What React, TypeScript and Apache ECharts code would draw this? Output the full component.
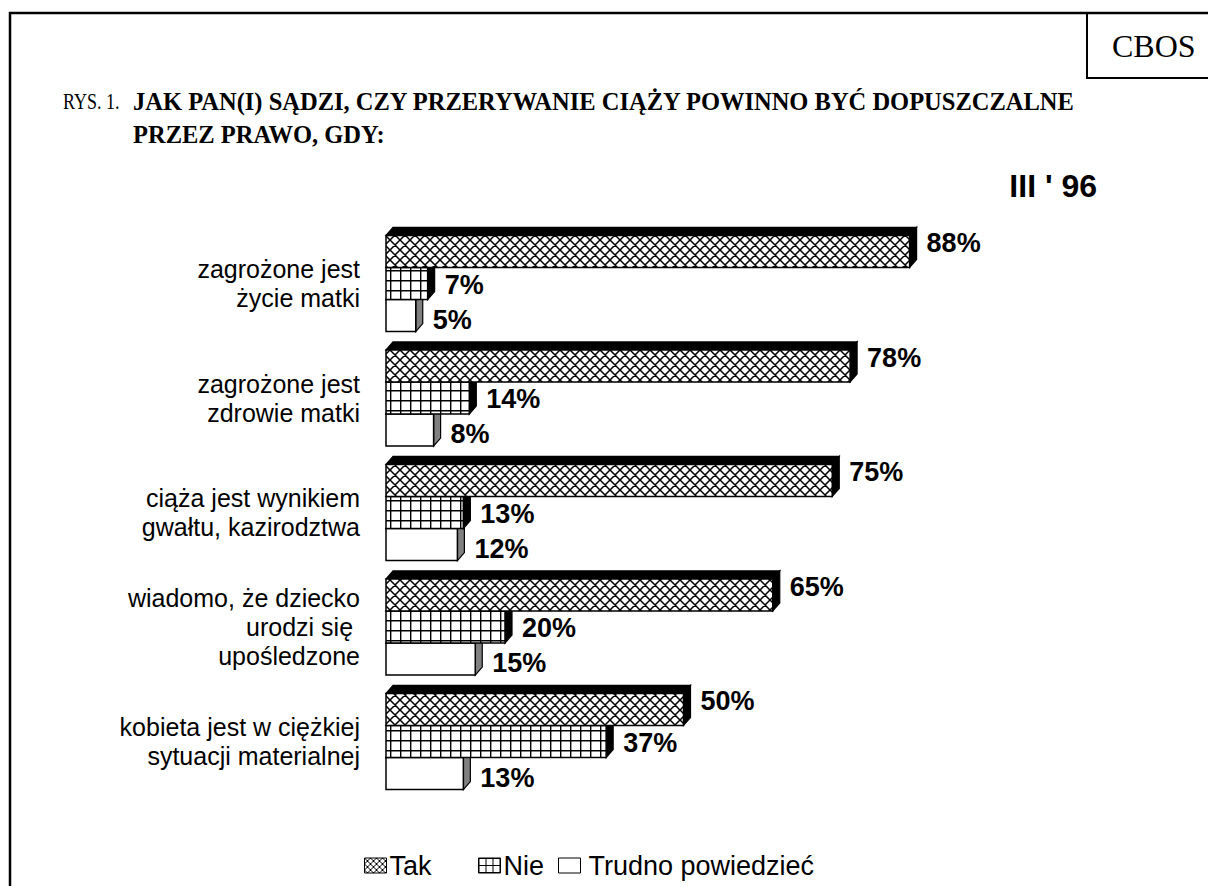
import React, { useEffect, useRef } from 'react';
import * as echarts from 'echarts';

const categories = [
  'zagrożone jest\nżycie matki',
  'zagrożone jest\nzdrowie matki',
  'ciąża jest wynikiem\ngwałtu, kazirodztwa',
  'wiadomo, że dziecko\nurodzi się \nupośledzone',
  'kobieta jest w ciężkiej\nsytuacji materialnej',
];
const seriesNames = ['Tak', 'Nie', 'Trudno powiedzieć'];
const takValues = [88, 78, 75, 65, 50];
const nieValues = [7, 14, 13, 20, 37];
const trudnoValues = [5, 8, 12, 15, 13];
const periodLabel = "III ' 96";
const figureLabel = 'RYS. 1.';
const titleLines = [
  'JAK PAN(I) SĄDZI, CZY PRZERYWANIE CIĄŻY POWINNO BYĆ DOPUSZCZALNE',
  'PRZEZ PRAWO, GDY:',
];
const sourceLabel = 'CBOS';

const SANS = '"Liberation Sans", Arial, Helvetica, sans-serif';
const SERIF = '"Liberation Serif", "Times New Roman", Times, serif';

const svgUrl = (s: string) => 'data:image/svg+xml;charset=utf-8,' + encodeURIComponent(s);

const crossPattern = (n: number, w: number) => ({
  image: svgUrl(
    `<svg xmlns="http://www.w3.org/2000/svg" width="${n}" height="${n}"><rect width="${n}" height="${n}" fill="#fff"/><path d="M-1 -1L${n + 1} ${n + 1}M${n + 1} -1L-1 ${n + 1}M-1 ${n - 1}L1 ${n + 1}M${n - 1} -1L${n + 1} 1M-1 1L1 -1M${n - 1} ${n + 1}L${n + 1} ${n - 1}" stroke="#000" stroke-width="${w}" fill="none"/></svg>`
  ),
  repeat: 'repeat',
  imageWidth: n,
  imageHeight: n,
});

const gridPattern = (n: number, w: number) => ({
  image: svgUrl(
    `<svg xmlns="http://www.w3.org/2000/svg" width="${n}" height="${n}"><rect width="${n}" height="${n}" fill="#fff"/><path d="M${w / 2} 0V${n}M0 ${w / 2}H${n}" stroke="#000" stroke-width="${w}" fill="none"/></svg>`
  ),
  repeat: 'repeat',
  imageWidth: n,
  imageHeight: n,
});

const faceStyles = [
  { front: crossPattern(10, 1.5), top: '#000', side: '#000' },
  { front: gridPattern(10, 1.4), top: '#000', side: '#000' },
  { front: '#fff', top: '#808080', side: '#808080' },
];
const legendFills = [crossPattern(6, 1), gridPattern(7, 1), '#fff'];
const labelDy = [-8, 1, 4];

const makeRenderItem = (k: number) => (params: any, api: any) => {
  const v = api.value(0);
  const cat = api.value(1);
  const start = api.coord([0, cat]);
  const end = api.coord([v, cat]);
  const band = api.size([0, 1])[1];
  const barH = band * 0.28;
  const x0 = start[0];
  const x1 = end[0];
  const y0 = start[1] - 1.5 * barH + k * barH;
  const y1 = y0 + barH;
  const dx = 7;
  const dy = -8;
  const st = faceStyles[k];
  return {
    type: 'group',
    children: [
      {
        type: 'polygon',
        shape: { points: [[x0, y0], [x0 + dx, y0 + dy], [x1 + dx, y0 + dy], [x1, y0]] },
        style: { fill: st.top, stroke: '#000', lineWidth: 1.2 },
      },
      {
        type: 'polygon',
        shape: { points: [[x1, y0], [x1 + dx, y0 + dy], [x1 + dx, y1 + dy], [x1, y1]] },
        style: { fill: st.side, stroke: '#000', lineWidth: 1.2 },
      },
      {
        type: 'rect',
        shape: { x: x0, y: y0, width: x1 - x0, height: barH },
        style: { fill: st.front, stroke: '#000', lineWidth: 1.5 },
      },
      {
        type: 'text',
        x: x1 + dx + 10,
        y: (y0 + y1) / 2 + labelDy[k],
        style: {
          text: v + '%',
          fill: '#000',
          font: `bold 27px ${SANS}`,
          verticalAlign: 'middle',
          align: 'left',
        },
      },
    ],
  };
};

const allValues = [takValues, nieValues, trudnoValues];

const legendLefts = [364, 478, 558];
const legendTextPad = [-2, -2, 3];

export default function App() {
  const ref = useRef<HTMLDivElement>(null);
  useEffect(() => {
    const chart = echarts.init(ref.current!, null, { renderer: 'svg' });
    const option: any = {
      animation: false,
      backgroundColor: '#fff',
      grid: { left: 386, top: 226.25, width: 595, height: 572.5, containLabel: false },
      xAxis: {
        type: 'value',
        min: 0,
        max: 100,
        show: false,
      },
      yAxis: {
        type: 'category',
        data: categories,
        inverse: true,
        axisLine: { show: false },
        axisTick: { show: false },
        splitLine: { show: false },
        axisLabel: {
          margin: 26,
          color: '#000',
          fontFamily: SANS,
          fontSize: 25,
          lineHeight: 29,
          align: 'right',
        },
      },
      legend: seriesNames.map((name, i) => ({
        left: legendLefts[i],
        top: 852,
        padding: 0,
        icon: 'rect',
        itemWidth: 22,
        itemHeight: 15,
        textStyle: {
          color: '#000',
          fontFamily: SANS,
          fontSize: 27,
          padding: [0, 0, 0, legendTextPad[i]],
        },
        data: [
          {
            name,
            itemStyle: { color: legendFills[i], borderColor: '#000', borderWidth: 1 },
          },
        ],
        selectedMode: false,
      })),
      series: seriesNames.map((name, k) => ({
        type: 'custom',
        name,
        z: 3 - k,
        renderItem: makeRenderItem(k),
        encode: { x: 0, y: 1 },
        data: allValues[k].map((v, i) => [v, i]),
        itemStyle: { color: legendFills[k] },
      })),
      graphic: [
        {
          type: 'rect',
          silent: true,
          shape: { x: 10, y: 13, width: 1400, height: 1000 },
          style: { fill: 'none', stroke: '#000', lineWidth: 2.5 },
        },
        {
          type: 'rect',
          silent: true,
          shape: { x: 1087, y: 13, width: 200, height: 65 },
          style: { fill: 'none', stroke: '#000', lineWidth: 2 },
        },
        {
          type: 'text',
          x: 1112,
          y: 46,
          style: { text: sourceLabel, font: `32px ${SERIF}`, fill: '#000', verticalAlign: 'middle' },
        },
        {
          type: 'text',
          x: 63,
          y: 101,
          scaleX: 0.75,
          style: { text: figureLabel, font: `24px ${SERIF}`, fill: '#000', verticalAlign: 'middle' },
        },
        {
          type: 'text',
          x: 133,
          y: 101,
          style: { text: titleLines[0], font: `bold 24.5px ${SERIF}`, fill: '#000', verticalAlign: 'middle' },
        },
        {
          type: 'text',
          x: 133,
          y: 134,
          style: { text: titleLines[1], font: `bold 24.5px ${SERIF}`, fill: '#000', verticalAlign: 'middle' },
        },
        {
          type: 'text',
          x: 1097,
          y: 186,
          style: {
            text: periodLabel,
            font: `bold 32px ${SANS}`,
            fill: '#000',
            align: 'right',
            verticalAlign: 'middle',
          },
        },
      ],
    };
    chart.setOption(option);
    return () => chart.dispose();
  }, []);
  return (
    <div
      ref={ref}
      style={{ position: 'fixed', left: 0, top: 0, width: 1208, height: 886, background: '#fff' }}
    />
  );
}
